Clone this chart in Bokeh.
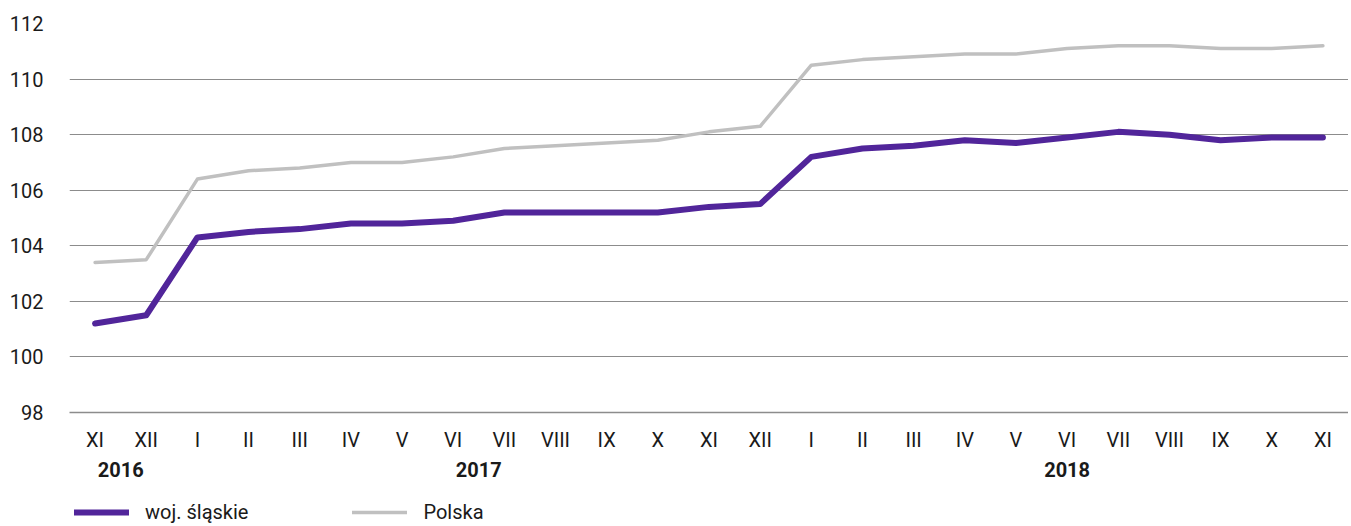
from bokeh.plotting import figure
from bokeh.layouts import column
from bokeh.models import (LinearAxis, FixedTicker, Range1d, Legend, LegendItem)
from bokeh.embed import file_html
from bokeh.resources import INLINE

months = ["XI", "XII", "I", "II", "III", "IV", "V", "VI", "VII", "VIII", "IX", "X", "XI", "XII",
          "I", "II", "III", "IV", "V", "VI", "VII", "VIII", "IX", "X", "XI"]
years = ["2016", "2017", "2018"]
year_centers = [0.5, 7.5, 19.0]
slaskie = [101.2, 101.5, 104.3, 104.5, 104.6, 104.8, 104.8, 104.9, 105.2, 105.2, 105.2, 105.2, 105.4, 105.5,
           107.2, 107.5, 107.6, 107.8, 107.7, 107.9, 108.1, 108.0, 107.8, 107.9, 107.9]
polska = [103.4, 103.5, 106.4, 106.7, 106.8, 107.0, 107.0, 107.2, 107.5, 107.6, 107.7, 107.8, 108.1, 108.3,
          110.5, 110.7, 110.8, 110.9, 110.9, 111.1, 111.2, 111.2, 111.1, 111.1, 111.2]
y_ticks = [98, 100, 102, 104, 106, 108, 110, 112]
series_names = ["woj. śląskie", "Polska"]
series_colors = ["#51259a", "#c0c0c0"]

FONT = "Roboto"
FS = "20px"
xs = list(range(len(months)))
W = 1348

p = figure(width=W, height=491, output_backend="svg", toolbar_location=None,
           x_range=Range1d(-0.5, len(months) - 0.5), y_range=Range1d(98, 112),
           min_border_left=69, min_border_right=0, min_border_top=23, min_border_bottom=79)
p.outline_line_color = None
p.xgrid.grid_line_color = None
p.ygrid.grid_line_color = "#8c8c8c"
p.ygrid.grid_line_width = 1
p.ygrid.ticker = FixedTicker(ticks=y_ticks)

p.yaxis.ticker = FixedTicker(ticks=y_ticks)
p.yaxis.axis_line_color = None
p.yaxis.major_tick_line_color = None
p.yaxis.minor_tick_line_color = None
p.yaxis.major_label_text_font = FONT
p.yaxis.major_label_text_font_size = FS
p.yaxis.major_label_text_color = "#1a1a1a"
p.yaxis.major_label_standoff = 20

p.xaxis.ticker = FixedTicker(ticks=xs)
p.xaxis.major_label_overrides = {i: m for i, m in enumerate(months)}
p.xaxis.axis_line_color = "#8c8c8c"
p.xaxis.axis_line_width = 1.5
p.xaxis.major_tick_line_color = None
p.xaxis.minor_tick_line_color = None
p.xaxis.major_label_text_font = FONT
p.xaxis.major_label_text_font_size = FS
p.xaxis.major_label_text_color = "#1a1a1a"
p.xaxis.major_label_standoff = 9

yax = LinearAxis(ticker=FixedTicker(ticks=year_centers),
                 major_label_overrides={c: y for c, y in zip(year_centers, years)})
yax.axis_line_color = None
yax.major_tick_line_color = None
yax.minor_tick_line_color = None
yax.major_label_text_font = FONT
yax.major_label_text_font_size = FS
yax.major_label_text_font_style = "bold"
yax.major_label_text_color = "#1a1a1a"
yax.major_label_standoff = 1
p.add_layout(yax, "below")

r1 = p.line(xs, slaskie, line_color=series_colors[0], line_width=6, line_cap="round", line_join="round")
r2 = p.line(xs, polska, line_color=series_colors[1], line_width=3.5, line_cap="round", line_join="round")

# legend strip below the chart (lines drawn outside its visible range, only the legend shows)
lg = figure(width=W, height=33, output_backend="svg", toolbar_location=None,
            x_range=Range1d(0, 1), y_range=Range1d(0, 1),
            min_border_left=69, min_border_right=0, min_border_top=0, min_border_bottom=0)
lg.outline_line_color = None
lg.axis.visible = False
lg.grid.visible = False
lr1 = lg.line([5, 6], [5, 6], line_color=series_colors[0], line_width=6, line_cap="round")
lr2 = lg.line([5, 6], [5, 6], line_color=series_colors[1], line_width=3.5, line_cap="round")
legend = Legend(items=[LegendItem(label=series_names[0], renderers=[lr1]),
                       LegendItem(label=series_names[1], renderers=[lr2])],
                orientation="horizontal", location=(5, 0))
legend.border_line_color = None
legend.background_fill_alpha = 0
legend.label_text_font = FONT
legend.label_text_font_size = FS
legend.label_text_color = "#1a1a1a"
legend.glyph_width = 55
legend.label_standoff = 16
legend.spacing = 104
legend.padding = 4
legend.margin = 0
lg.add_layout(legend, "center")

layout = column(p, lg, spacing=0)
open("out.html", "w").write(file_html(layout, INLINE))
